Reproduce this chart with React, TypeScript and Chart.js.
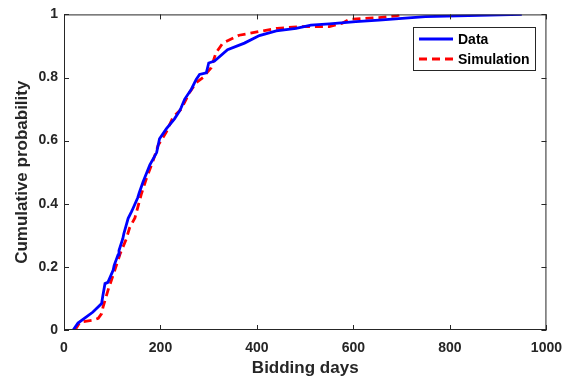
import React, { useEffect, useRef } from "react";
import { Chart, registerables } from "chart.js";

Chart.register(...registerables);

const dataX = [19, 29, 45, 60, 78, 80, 85, 91, 102, 104, 112, 114, 122, 124, 133, 140, 143, 153, 156, 164, 178, 192, 198, 212, 229, 240, 243, 250, 264, 274, 281, 295, 300, 312, 339, 374, 405, 440, 481, 512, 550, 605, 653, 749, 949];
const dataY = [0, 0.022, 0.04, 0.057, 0.084, 0.104, 0.147, 0.151, 0.19, 0.205, 0.238, 0.252, 0.29, 0.305, 0.354, 0.375, 0.385, 0.42, 0.435, 0.47, 0.523, 0.562, 0.606, 0.637, 0.669, 0.695, 0.705, 0.731, 0.763, 0.794, 0.81, 0.815, 0.846, 0.852, 0.888, 0.909, 0.933, 0.948, 0.956, 0.966, 0.97, 0.977, 0.982, 0.993, 1.0];

const simX = [23, 33, 60, 71, 78, 81, 91, 105, 116, 129, 136, 147, 160, 171, 184, 195, 212, 226, 243, 260, 274, 288, 305, 315, 329, 363, 405, 442, 488, 550, 577, 591, 618, 653, 688, 700];
const simY = [0, 0.025, 0.031, 0.037, 0.052, 0.073, 0.125, 0.188, 0.24, 0.288, 0.324, 0.355, 0.429, 0.481, 0.533, 0.585, 0.627, 0.674, 0.7, 0.752, 0.784, 0.8, 0.831, 0.878, 0.909, 0.934, 0.946, 0.956, 0.961, 0.961, 0.972, 0.984, 0.987, 0.99, 0.995, 1.0];

const xTicks = [0, 200, 400, 600, 800, 1000];
const yTicks = [0, 0.2, 0.4, 0.6, 0.8, 1];
const seriesLabels = ["Data", "Simulation"];

const AXIS_COLOR = "#262626";
const FONT = "'Liberation Sans', Arial, sans-serif";

const boxPlugin = {
  id: "matlabBox",
  afterDatasetsDraw(chart: any) {
    const { ctx, chartArea: a, scales } = chart;
    ctx.save();
    ctx.strokeStyle = AXIS_COLOR;
    ctx.lineWidth = 1;
    ctx.strokeRect(a.left + 0.5, a.top + 0.5, a.right - a.left - 1, a.bottom - a.top - 1);
    const tl = 5;
    ctx.beginPath();
    xTicks.forEach((v) => {
      const px = Math.round(scales.x.getPixelForValue(v)) + 0.5;
      ctx.moveTo(px, a.bottom);
      ctx.lineTo(px, a.bottom - tl);
      ctx.moveTo(px, a.top);
      ctx.lineTo(px, a.top + tl);
    });
    yTicks.forEach((v) => {
      const py = Math.round(scales.y.getPixelForValue(v)) + 0.5;
      ctx.moveTo(a.left, py);
      ctx.lineTo(a.left + tl, py);
      ctx.moveTo(a.right, py);
      ctx.lineTo(a.right - tl, py);
    });
    ctx.stroke();

    // legend
    const lx = 413, ly = 27, lw = 122, lh = 43;
    ctx.fillStyle = "#ffffff";
    ctx.fillRect(lx, ly, lw, lh);
    ctx.strokeStyle = AXIS_COLOR;
    ctx.strokeRect(lx + 0.5, ly + 0.5, lw, lh);
    const ds = chart.data.datasets;
    const rows = [39, 59];
    ds.forEach((d: any, i: number) => {
      ctx.beginPath();
      ctx.strokeStyle = d.borderColor;
      ctx.lineWidth = d.borderWidth;
      ctx.setLineDash(d.borderDash || []);
      ctx.moveTo(419, rows[i]);
      ctx.lineTo(453, rows[i]);
      ctx.stroke();
      ctx.setLineDash([]);
      ctx.fillStyle = "#000000";
      ctx.font = `bold 14px ${FONT}`;
      ctx.textBaseline = "middle";
      ctx.textAlign = "left";
      ctx.fillText(d.label, 458, rows[i] + 1);
    });
    ctx.restore();
  },
};

export default function App() {
  const ref = useRef<HTMLCanvasElement | null>(null);
  useEffect(() => {
    document.body.style.margin = "0";
    const canvas = ref.current!;
    const chart = new Chart(canvas, {
      type: "scatter",
      data: {
        datasets: [
          {
            label: seriesLabels[0],
            data: dataX.map((x, i) => ({ x, y: dataY[i] })),
            showLine: true,
            borderColor: "#0000ff",
            backgroundColor: "#0000ff",
            borderWidth: 2.8,
            pointRadius: 0,
            tension: 0,
          },
          {
            label: seriesLabels[1],
            data: simX.map((x, i) => ({ x, y: simY[i] })),
            showLine: true,
            borderColor: "#ff0000",
            backgroundColor: "#ff0000",
            borderWidth: 2.8,
            borderDash: [8, 5],
            pointRadius: 0,
            tension: 0,
          },
        ],
      },
      options: {
        animation: false,
        responsive: false,
        maintainAspectRatio: false,
        layout: { padding: { left: 0, right: 24, top: 11, bottom: 0 } },
        plugins: { legend: { display: false }, tooltip: { enabled: false } },
        scales: {
          x: {
            type: "linear",
            min: 0,
            max: 1000,
            border: { display: false },
            grid: { display: false, drawTicks: false },
            afterBuildTicks: (s: any) => {
              s.ticks = xTicks.map((v) => ({ value: v }));
            },
            afterFit: (s: any) => {
              s.height = 55;
            },
            ticks: {
              padding: 10,
              color: AXIS_COLOR,
              font: { family: FONT, size: 14, weight: "bold" },
              maxRotation: 0,
              autoSkip: false,
              callback: (v: any) => String(Number(v)),
            },
            title: {
              display: true,
              text: "Bidding days",
              color: AXIS_COLOR,
              font: { family: FONT, size: 17, weight: "bold" },
              padding: { top: 0, bottom: 6 },
            },
          },
          y: {
            type: "linear",
            min: 0,
            max: 1,
            border: { display: false },
            grid: { display: false, drawTicks: false },
            afterBuildTicks: (s: any) => {
              s.ticks = yTicks.map((v) => ({ value: v }));
            },
            afterFit: (s: any) => {
              s.width = 64;
            },
            ticks: {
              padding: 6,
              color: AXIS_COLOR,
              font: { family: FONT, size: 14, weight: "bold" },
              autoSkip: false,
              callback: (v: any) => String(Number(v)),
            },
            title: {
              display: true,
              text: "Cumulative probability",
              color: AXIS_COLOR,
              font: { family: FONT, size: 17, weight: "bold" },
              padding: { top: 12, bottom: 0 },
            },
          },
        },
      },
      plugins: [boxPlugin],
    });
    return () => chart.destroy();
  }, []);
  return (
    <canvas
      ref={ref}
      width={572}
      height={385}
      style={{ display: "block", width: 572, height: 385 }}
    />
  );
}
